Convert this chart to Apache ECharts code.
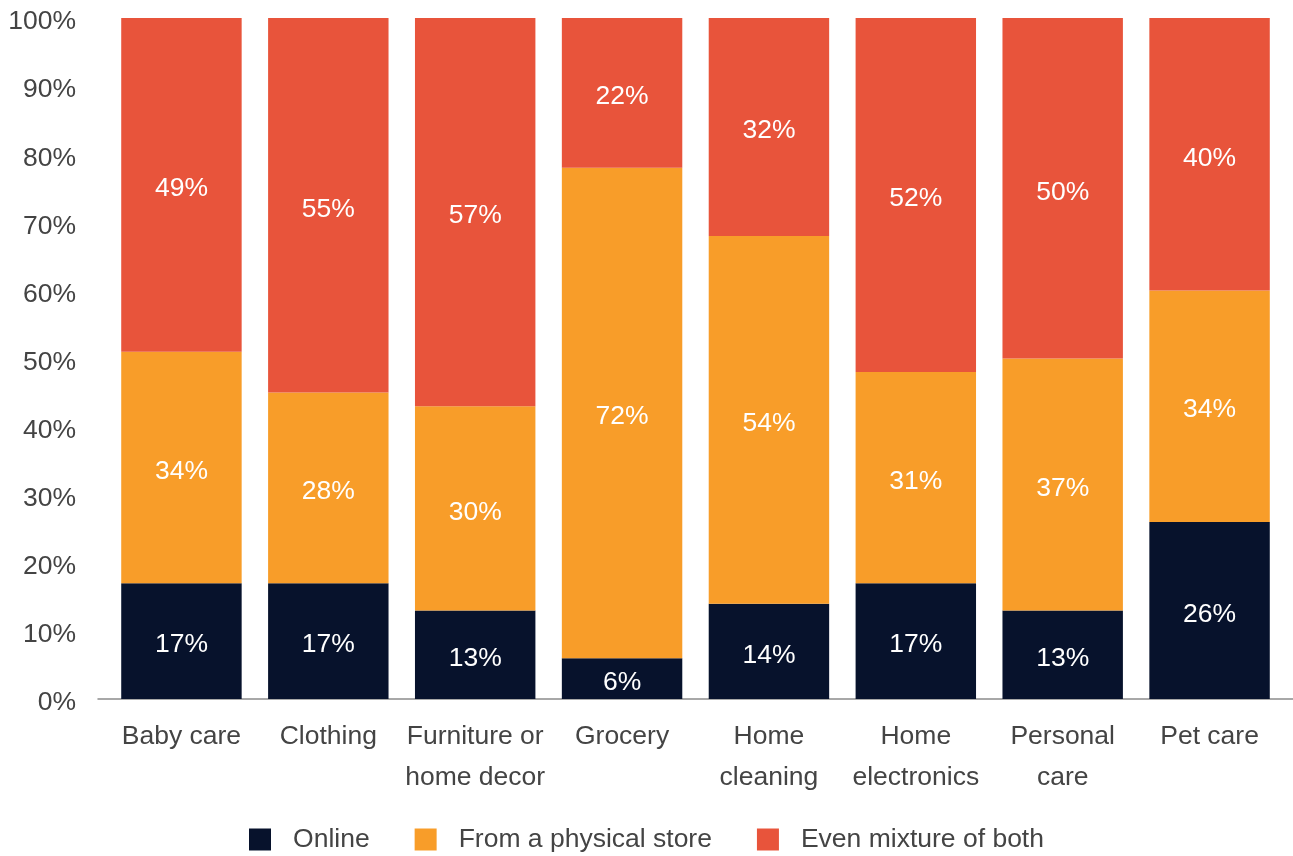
<!DOCTYPE html>
<html>
<head>
<meta charset="utf-8">
<style>
  html, body { margin: 0; padding: 0; background: #fff; }
  #chart { width: 1293px; height: 856px; }
</style>
<script src="https://cdn.jsdelivr.net/npm/echarts@6/dist/echarts.min.js"></script>
</head>
<body>
<div id="chart"></div>
<script>
// Shopping channel preference by product category (share of respondents, %)
const categories = [
  'Baby care', 'Clothing', 'Furniture or\nhome decor', 'Grocery',
  'Home\ncleaning', 'Home\nelectronics', 'Personal\ncare', 'Pet care'
];
const online   = [17, 17, 13, 6, 14, 17, 13, 26];
const physical = [34, 28, 30, 72, 54, 31, 37, 34];
const mixture  = [49, 55, 57, 22, 32, 52, 50, 40];
const seriesNames = ['Online', 'From a physical store', 'Even mixture of both'];
const colors = ['#07122c', '#f89d29', '#e8543b'];

const FONT = '"Liberation Sans", Arial, Helvetica, sans-serif';
const TEXT = '#444444';
const SIZE = 26.5;

const chart = echarts.init(document.getElementById('chart'), null, { renderer: 'canvas' });

function barSeries(name, data, color) {
  return {
    name: name,
    type: 'bar',
    stack: 'total',
    xAxisIndex: 0,
    yAxisIndex: 0,
    data: data,
    barCategoryGap: '18%',
    itemStyle: { color: color },
    label: {
      show: true,
      position: 'inside',
      offset: [0, 4],
      formatter: '{c}%',
      color: '#ffffff',
      fontFamily: FONT,
      fontSize: SIZE
    },
    emphasis: { disabled: true }
  };
}

chart.setOption({
  animation: false,
  textStyle: { fontFamily: FONT },
  legend: {
    top: 821,
    left: 'center',
    itemWidth: 22,
    itemHeight: 22,
    itemGap: 45,
    icon: 'rect',
    textStyle: { color: TEXT, fontSize: SIZE, fontFamily: FONT, padding: [0, 0, 0, 17] },
    data: seriesNames
  },
  grid: [
    { left: 108, right: 10, top: 18, bottom: 157 },
    { left: 98, right: 0, top: 18, bottom: 157 }
  ],
  xAxis: [
    {
      type: 'category',
      gridIndex: 0,
      data: categories,
      axisLine: { show: false },
      axisTick: { show: false },
      axisLabel: {
        color: TEXT,
        fontSize: SIZE,
        fontFamily: FONT,
        lineHeight: 41,
        margin: 17,
        interval: 0
      }
    },
    {
      // baseline rule spanning the full plot width
      type: 'value',
      gridIndex: 1,
      min: 0,
      max: 1,
      axisLine: { show: true, lineStyle: { color: '#8c8c8c', width: 1.5 } },
      axisTick: { show: false },
      axisLabel: { show: false },
      splitLine: { show: false }
    }
  ],
  yAxis: [
    {
      type: 'value',
      gridIndex: 0,
      min: 0,
      max: 100,
      interval: 10,
      axisLine: { show: false },
      axisTick: { show: false },
      splitLine: { show: false },
      axisLabel: {
        formatter: '{t|{value}%}',
        margin: 32,
        rich: {
          t: {
            color: TEXT,
            fontSize: SIZE,
            fontFamily: FONT,
            padding: [8, 0, 0, 0]
          }
        }
      }
    },
    {
      type: 'value',
      gridIndex: 1,
      show: false,
      min: 0,
      max: 1
    }
  ],
  series: [
    barSeries(seriesNames[0], online, colors[0]),
    barSeries(seriesNames[1], physical, colors[1]),
    barSeries(seriesNames[2], mixture, colors[2])
  ]
});
</script>
</body>
</html>
